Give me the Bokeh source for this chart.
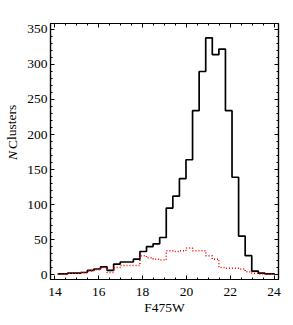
from bokeh.plotting import figure
from bokeh.layouts import row
from bokeh.models import Range1d, FixedTicker, LinearAxis, CustomJSTickFormatter
from bokeh.core.properties import value
from bokeh.embed import file_html
from bokeh.resources import INLINE

# bin centres (F475W magnitude)
mags = [14.13, 14.43, 14.73, 15.03, 15.33, 15.63, 15.93, 16.23, 16.53, 16.83,
        17.13, 17.43, 17.73, 18.03, 18.33, 18.63, 18.93, 19.23, 19.53, 19.83,
        20.13, 20.43, 20.73, 21.03, 21.33, 21.63, 21.93, 22.23, 22.53, 22.83,
        23.13, 23.43, 23.73, 24.03]
# all clusters (black, solid)
n_all = [1, 1, 2, 2, 3, 6, 8, 11, 6, 15,
         18, 18, 22, 33, 40, 44, 53, 95, 112, 137,
         164, 234, 290, 338, 314, 322, 234, 139, 55, 27,
         5, 2, 1, 1]
# subsample (red, dotted)
n_sub = [1, 1, 2, 2, 3, 5, 7, 10, 3, 10,
         13, 13, 13, 27, 24, 22, 21, 34, 33, 34,
         38, 34, 34, 27, 22, 10, 9, 9, 8, 4,
         2, 1, 1, 1]

x_major = [14, 16, 18, 20, 22, 24]
x_minor = [14.5, 15, 15.5, 16.5, 17, 17.5, 18.5, 19, 19.5, 20.5, 21, 21.5,
           22.5, 23, 23.5]
y_major = [0, 50, 100, 150, 200, 250, 300, 350]
y_minor = [v for v in range(-10, 360, 10) if v % 50 != 0]

FONT = "Liberation Serif"
FS = "13.5px"
H = 317

p = figure(width=265, height=H, output_backend="svg", toolbar_location=None,
           x_range=Range1d(13.8, 24.2), y_range=Range1d(-7, 358.5),
           min_border_left=30, min_border_right=7, min_border_top=23,
           min_border_bottom=38, x_axis_label="F475W")
p.background_fill_color = "white"
p.border_fill_color = "white"
p.outline_line_color = "black"
p.outline_line_width = 1.2
p.grid.visible = False

def style(ax, labels=True):
    ax.axis_line_color = "black"
    ax.axis_line_width = 1.2
    ax.major_tick_in = 4
    ax.major_tick_out = 0
    ax.minor_tick_in = 2
    ax.minor_tick_out = 0
    ax.major_tick_line_color = "black"
    ax.minor_tick_line_color = "black"
    ax.major_label_text_font = FONT
    ax.major_label_text_font_size = FS
    ax.major_label_text_color = "black"
    ax.axis_label_text_font = FONT
    ax.axis_label_text_font_size = FS
    ax.axis_label_text_font_style = "normal"
    ax.axis_label_text_color = "black"
    if not labels:
        ax.formatter = CustomJSTickFormatter(code="return ''")

xt = FixedTicker(ticks=x_major, minor_ticks=x_minor)
yt = FixedTicker(ticks=y_major, minor_ticks=y_minor)

p.xaxis.ticker = xt
p.yaxis.ticker = yt
for ax in p.xaxis:
    style(ax)
    ax.major_label_standoff = 8
    ax.axis_label_standoff = 1
for ax in p.yaxis:
    style(ax)
    ax.major_label_standoff = 3

top = LinearAxis(ticker=xt)
style(top, labels=False)
top.major_label_standoff = 0
p.add_layout(top, "above")
right = LinearAxis(ticker=yt)
style(right, labels=False)
right.major_label_standoff = 0
p.add_layout(right, "right")

p.step(mags, n_all, mode="center", line_color="black", line_width=1.7)
p.step(mags, n_sub, mode="center", line_color="#ff0000", line_width=1.5,
       line_dash="1 2")

# narrow strip holding the y-axis title: italic N + Clusters
lab = figure(width=20, height=H, output_backend="svg", toolbar_location=None,
             x_range=Range1d(0, 20), y_range=Range1d(0, H),
             min_border=0, x_axis_location=None, y_axis_location=None)
lab.outline_line_color = None
lab.grid.visible = False
lab.background_fill_color = "white"
lab.border_fill_color = "white"
lab.text(x=[11.5], y=[H - 169], text=["N"], angle=1.5708,
         text_font=value(FONT), text_font_size=FS, text_font_style="italic",
         text_align="left", text_baseline="middle", text_color="black")
lab.text(x=[11.5], y=[H - 155.5], text=["Clusters"], angle=1.5708,
         text_font=value(FONT), text_font_size=FS,
         text_align="left", text_baseline="middle", text_color="black")

layout = row(lab, p, spacing=0)
open("out.html", "w").write(file_html(layout, INLINE))
